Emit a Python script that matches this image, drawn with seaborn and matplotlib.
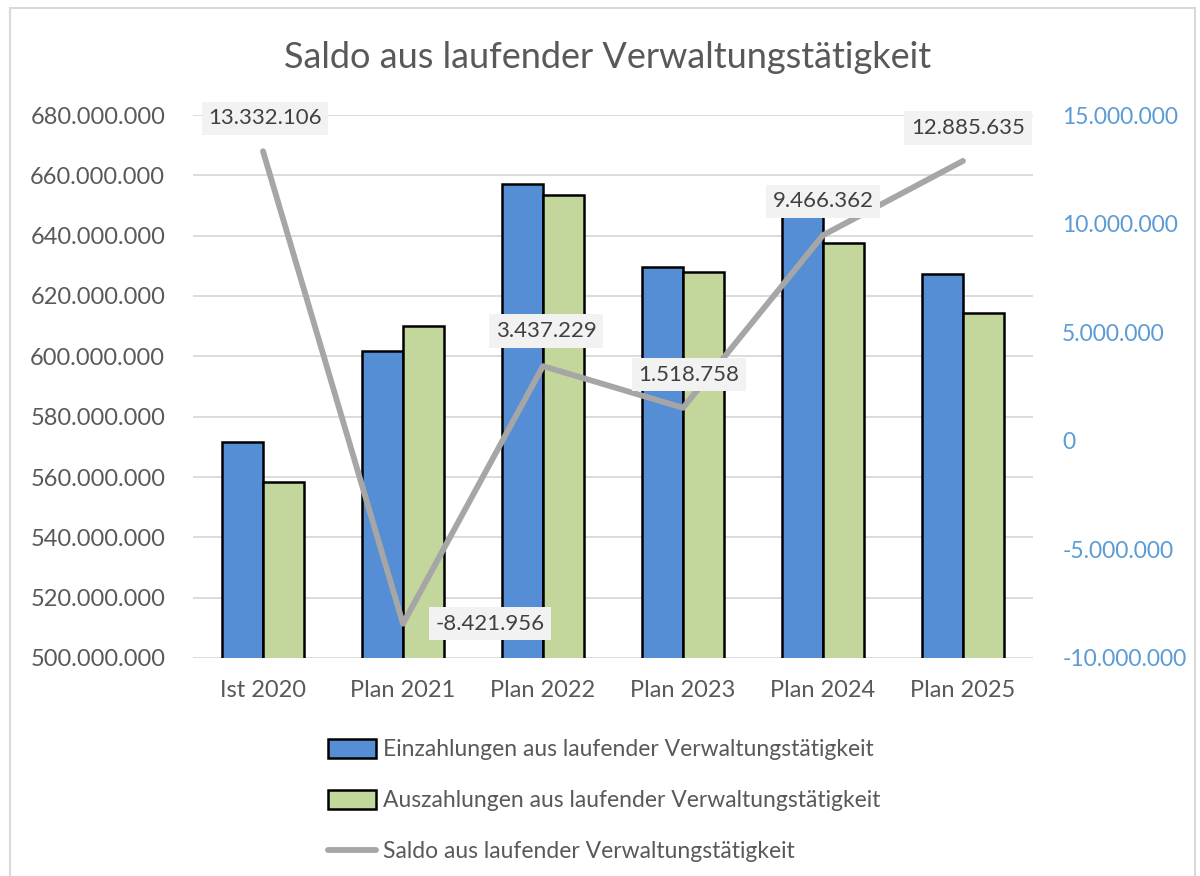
import numpy as np
import pandas as pd
import matplotlib
matplotlib.use("Agg")
import matplotlib.pyplot as plt
import seaborn as sns
from matplotlib.ticker import FuncFormatter, MultipleLocator
from matplotlib.patches import Rectangle, Patch
from matplotlib.lines import Line2D

jahre = ["Ist 2020", "Plan 2021", "Plan 2022", "Plan 2023", "Plan 2024", "Plan 2025"]
einzahlungen = [571.6e6, 601.8e6, 657.0e6, 629.6e6, 647.0e6, 627.4e6]
auszahlungen = [558.3e6, 610.2e6, 653.6e6, 628.1e6, 637.5e6, 614.5e6]
saldo = [13332106, -8421956, 3437229, 1518758, 9466362, 12885635]

name_ein = "Einzahlungen aus laufender Verwaltungstätigkeit"
name_aus = "Auszahlungen aus laufender Verwaltungstätigkeit"
name_saldo = "Saldo aus laufender Verwaltungstätigkeit"

# label offsets (pixels) relative to the saldo points
label_offsets = [(2, 33), (87, 0), (3, 35), (6, 33), (0, 34), (5, 33)]

blau = "#558ED5"
gruen = "#C3D69B"
grau_linie = "#A6A6A6"
text_grau = "#595959"
achse_blau = "#5B9BD5"

sns.set_theme(style="white")
plt.rcParams["font.family"] = ["Lato", "DejaVu Sans"]

def de_fmt(v, pos=None):
    return f"{v:,.0f}".replace(",", ".")

df = pd.DataFrame({
    "Jahr": jahre * 2,
    "Wert": einzahlungen + auszahlungen,
    "Reihe": [name_ein] * len(jahre) + [name_aus] * len(jahre),
})

fig = plt.figure(figsize=(12, 8.76), dpi=100)
ax = fig.add_axes([193 / 1200, 1 - 658 / 876, 840 / 1200, (658 - 115) / 876])

sns.barplot(data=df, x="Jahr", y="Wert", hue="Reihe", palette=[blau, gruen],
            width=0.58, gap=0, saturation=1, edgecolor="black", linewidth=1.8,
            legend=False, ax=ax)
ax.set_ylim(500e6, 680e6)
ax.yaxis.set_major_locator(MultipleLocator(20e6))
ax.yaxis.set_major_formatter(FuncFormatter(de_fmt))
ax.grid(axis="y", color="#D9D9D9", linewidth=1.3)
ax.set_axisbelow(True)
ax.set_xlabel("")
ax.set_ylabel("")
for s in ax.spines.values():
    s.set_visible(False)
ax.tick_params(axis="y", length=0, pad=20, labelsize=17, labelcolor=text_grau)
ax.tick_params(axis="x", length=0, pad=16, labelsize=17, labelcolor=text_grau)

ax2 = ax.twinx()
sns.lineplot(x=np.arange(len(jahre)), y=saldo, color=grau_linie, linewidth=4.2,
             ax=ax2, legend=False)
ax2.set_ylim(-10e6, 15e6)
ax2.yaxis.set_major_locator(MultipleLocator(5e6))
ax2.yaxis.set_major_formatter(FuncFormatter(de_fmt))
ax2.set_xlim(-0.5, len(jahre) - 0.5)
for s in ax2.spines.values():
    s.set_visible(False)
ax2.tick_params(axis="y", length=0, pad=21, labelsize=16.5, labelcolor=achse_blau)
ax2.grid(False)

for i, (v, off) in enumerate(zip(saldo, label_offsets)):
    ax2.annotate(de_fmt(v), (i, v), xytext=off, textcoords="offset pixels",
                 ha="center", va="center", fontsize=16, color="#404040",
                 bbox=dict(boxstyle="square,pad=0.3", facecolor="#F2F2F2", edgecolor="none"))

fig.text(0.506, 1 - 58 / 876, name_saldo, ha="center", va="center",
         fontsize=26, color=text_grau)

handles = [Patch(facecolor=blau, edgecolor="black", linewidth=1.8),
           Patch(facecolor=gruen, edgecolor="black", linewidth=1.8),
           Line2D([0], [0], color=grau_linie, linewidth=4.2)]
fig.legend(handles, [name_ein, name_aus, name_saldo], loc="upper left",
           bbox_to_anchor=(307 / 1200, 1 - 718 / 876), frameon=False,
           fontsize=16.5, labelcolor=text_grau, handlelength=2.1, handleheight=0.9,
           handletextpad=0.3, labelspacing=1.3)

fig.add_artist(Rectangle((10 / 1200, -0.02), 1185 / 1200, 1 - 8 / 876 + 0.02,
                         transform=fig.transFigure, fill=False,
                         edgecolor="#D9D9D9", linewidth=1.5))

fig.savefig("out.png", dpi=100)
